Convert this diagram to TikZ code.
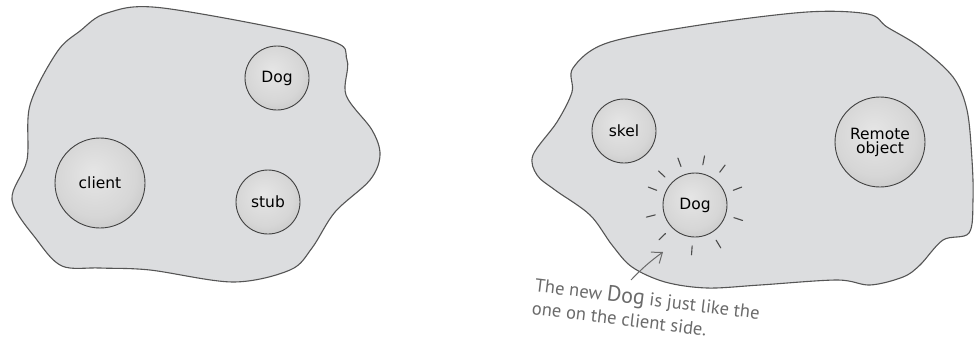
\documentclass[tikz,border=0pt]{standalone}
\usepackage{fontspec}
\setmainfont{DejaVu Sans}
\newfontfamily\handfont{PT Sans}
\usetikzlibrary{arrows.meta,calc}
\definecolor{blobfill}{HTML}{DCDDDF}
\definecolor{blobline}{HTML}{555555}
\definecolor{handgray}{HTML}{6A6A6A}
\pgfdeclareradialshading{bubble}{\pgfpoint{-4bp}{6bp}}{color(0bp)=(black!10); color(22bp)=(black!16); color(38bp)=(black!26); color(46bp)=(black!45); color(50bp)=(black!64)}
\tikzset{
  blob/.style={fill=blobfill, draw=blobline, line width=1.1pt, smooth cycle, tension=0.55},
  ball/.style={circle, inner sep=0pt, shading=bubble, draw=black!75, line width=0.9pt, font=\fontsize{15.5}{17}\selectfont, align=center},
  smallball/.style={ball, minimum size=64pt},
  bigball/.style={ball, minimum size=90pt},
  ray/.style={draw=black!70, line width=1.1pt, line cap=round},
  hand/.style={text=handgray, font=\handfont\fontsize{18.5}{23}\selectfont, align=left, anchor=north west, inner sep=0pt, rotate=-7},
  note/.style={draw=handgray, line width=1pt, -{Straight Barb[length=9pt,width=14pt]}}
}
\begin{document}
\begin{tikzpicture}[x=1pt,y=-1pt]
\useasboundingbox (0,0) rectangle (974,341);
% left blob
\draw[blob] plot coordinates {(107,13) (163,8) (325,39) (347,60) (346,95) (372,130) (380,155) (370,180) (335,212) (312,248) (290,270) (233,282) (150,270) (100,268) (62,266) (37,240) (12,200) (27,160) (30,105) (57,52) (80,31)};
% right blob
\draw[blob] plot coordinates {(807,12) (700,25) (607,43) (573,68) (572,92) (557,122) (533,155) (537,175) (555,190) (590,215) (612,245) (632,267) (665,282) (707,288) (760,285) (837,280) (870,285) (903,277) (920,265) (943,240) (969,233) (973,200) (972,160) (967,110) (953,77) (920,47) (887,27) (868,14)};
% left balls
\node[smallball] (ldog) at (277,78) {Dog};
\node[bigball] (client) at (100,183) {client};
\node[smallball] (stub) at (268,202) {stub};
% right balls
\node[smallball] (skel) at (624,131) {skel};
\node[bigball] (remote) at (880,142) {Remote\\[-3pt]object};
\node[smallball] (rdog) at (695,205) {Dog};
% rays around new Dog
\foreach \a in {79,110,137,159,194,224,266,301,342,21,53}
  \draw[ray] ([shift={(-\a:41)}]rdog.center) -- ([shift={(-\a:50)}]rdog.center);
% annotation
\node[hand] (note) at (536,276) {The new {\fontsize{22}{22}\selectfont Dog} is just like the\\one on the client side.};
\coordinate (tail) at (631,280);
\coordinate (tip) at (663,252);
\draw[note] (tail) to[bend left=5] (tip);
\end{tikzpicture}
\end{document}
